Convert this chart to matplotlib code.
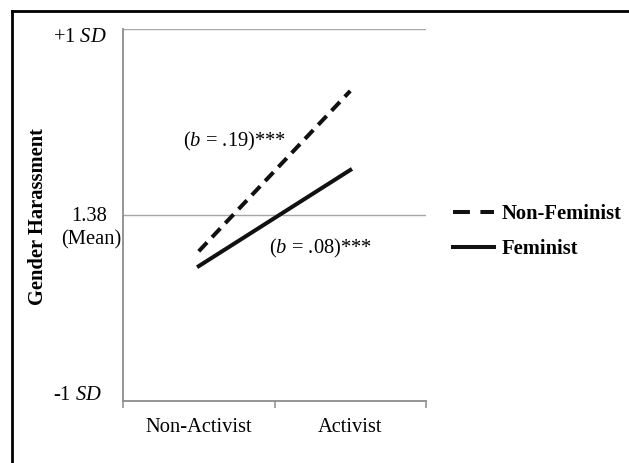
import matplotlib.pyplot as plt
from matplotlib.lines import Line2D

plt.rcParams['font.family'] = ['Liberation Serif', 'DejaVu Serif']
plt.rcParams['mathtext.fontset'] = 'custom'
plt.rcParams['mathtext.rm'] = 'Liberation Serif'
plt.rcParams['mathtext.it'] = 'Liberation Serif:italic'

# activism level on x, harassment (in SD units around the mean) on y
categories = ['Non-Activist', 'Activist']
non_feminist = [-0.195, 0.667]
feminist = [-0.275, 0.242]
series_names = ['Non-Feminist', 'Feminist']
slopes = ['.19', '.08']

W, H = 629, 463
FS = 14.8
fig = plt.figure(figsize=(W / 100, H / 100), dpi=100)

# outer frame (only left and top show in the crop)
fig.add_artist(Line2D([12 / W, 12 / W], [0, 1 - 11 / H], color='black', lw=2.0,
                      transform=fig.transFigure))
fig.add_artist(Line2D([12 / W, 1], [1 - 11 / H, 1 - 11 / H], color='black', lw=2.0,
                      transform=fig.transFigure))

ax = fig.add_axes([123 / W, 1 - 401 / H, (426 - 123) / W, (401 - 29) / H])
ax.set_xlim(0, 2)
ax.set_ylim(-1, 1)

grey = '#a6a6a6'
for y in [0, 1]:
    ax.axhline(y, color=grey, lw=1.0, zorder=1)
for s in ['top', 'right']:
    ax.spines[s].set_visible(False)
for s in ['left', 'bottom']:
    ax.spines[s].set_color('#8c8c8c')
    ax.spines[s].set_linewidth(1.3)

xs = [0.5, 1.5]
ax.plot(xs, non_feminist, color='#111111', lw=2.9, ls=(0, (3.0, 1.8)), zorder=3)
ax.plot(xs, feminist, color='#111111', lw=2.9, ls='-', zorder=3)

ax.set_xticks([0, 1, 2])
ax.set_xticklabels([])
ax.tick_params(axis='x', which='major', direction='out', length=5, color='#8c8c8c', width=1.1)
ax.set_xticks(xs, minor=True)
ax.set_xticklabels(categories, minor=True, fontsize=FS)
ax.tick_params(axis='x', which='minor', length=0, pad=12)
ax.set_yticks([])

# y labels placed like the original
fig.text(107 / W, 1 - 38 / H, r'+1 $\it{SD}$', ha='right', va='center', fontsize=FS)
fig.text(107 / W, 1 - 216 / H, '1.38', ha='right', va='center', fontsize=FS)
fig.text(121 / W, 1 - 240 / H, '(Mean)', ha='right', va='center', fontsize=FS)
fig.text(102 / W, 1 - 396 / H, r'-1 $\it{SD}$', ha='right', va='center', fontsize=FS)
fig.text(38 / W, 1 - 217 / H, 'Gender Harassment', rotation=90, ha='center', va='center',
         fontsize=FS, fontweight='bold')

# slope annotations
fig.text(183 / W, 1 - 141 / H, r'($\it{b}$ = ' + slopes[0] + ')***', ha='left', va='center', fontsize=FS)
fig.text(269 / W, 1 - 248 / H, r'($\it{b}$ = ' + slopes[1] + ')***', ha='left', va='center', fontsize=FS)

# legend handles: the original key shows two long dashes
handles = [Line2D([], [], color='#111111', lw=2.9, ls=(0, (4.2, 2.6))),
           Line2D([], [], color='#111111', lw=2.9, ls='-')]
leg = fig.legend(handles, series_names, loc='upper left', bbox_to_anchor=(453 / W, 1 - 204 / H),
                 frameon=False, prop={'weight': 'bold', 'size': FS}, handlelength=2.0,
                 handletextpad=0.35, labelspacing=0.75, borderaxespad=0, borderpad=0)

fig.savefig('out.png', dpi=100)
